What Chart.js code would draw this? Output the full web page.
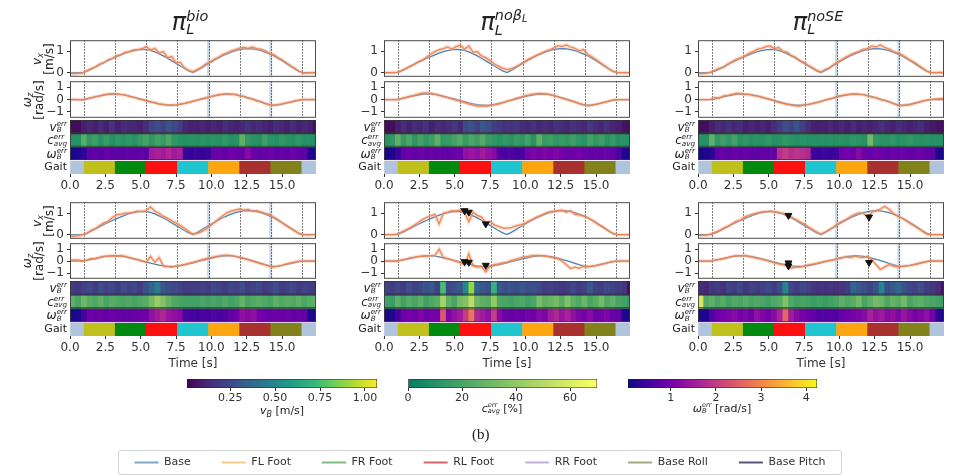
<!DOCTYPE html>
<html>
<head>
<meta charset="utf-8">
<script src="https://cdn.jsdelivr.net/npm/chart.js@4.4.1/dist/chart.umd.min.js"></script>
<style>
body { margin: 0; width: 960px; height: 476px; position: relative; overflow: hidden; background: #fff; font-family: 'DejaVu Sans', sans-serif; color: #222; }
.tx { position: absolute; white-space: nowrap; }
.ttl { font-size: 24px; font-style: italic; transform: translateX(-50%); line-height: 30px; }
.ss { display: inline-block; vertical-align: middle; line-height: 0.9; font-size: 0.6em; text-align: left; font-style: italic; }
.ss > span { display: block; }
.s2 { font-size: 0.7em; vertical-align: -2px; }
.sl { font-size: 12px; height: 16px; line-height: 16px; text-align: right; }
.rot { font-size: 12px; line-height: 12px; text-align: center; transform: translate(-50%, -50%) rotate(-90deg); }
.rot sub { font-size: 8px; line-height: 0; vertical-align: -2px; }
.cbl { font-size: 11px; transform: translateX(-50%); }
.box { position: absolute; left: 118px; top: 450px; width: 722px; height: 23px; border: 1px solid #d4d4d4; border-radius: 3px; }
</style>
</head>
<body>
<div class="box"></div>
<script>
// sample times of the velocity traces [s]
const time = [0,0.3,0.6,0.9,1.2,1.5,1.8,2.1,2.4,2.7,3,3.3,3.6,3.9,4.2,4.5,4.8,5.1,5.4,5.7,6,6.3,6.6,6.9,7.2,7.5,7.8,8.1,8.4,8.7,9,9.3,9.6,9.9,10.2,10.5,10.8,11.1,11.4,11.7,12,12.3,12.6,12.9,13.2,13.5,13.8,14.1,14.4,14.7,15,15.3,15.6,15.9,16.2,16.5,16.8,17.1,17.4];
// start of each error-strip cell [s]
const cellStart = [0,0.4,0.8,1.2,1.6,2,2.4,2.8,3.2,3.6,4,4.4,4.8,5.2,5.6,6,6.4,6.8,7.2,7.6,8,8.4,8.8,9.2,9.6,10,10.4,10.8,11.2,11.6,12,12.4,12.8,13.2,13.6,14,14.4,14.8,15.2,15.6,16,16.4,16.8,17.2];
const cellWidth = 0.4;
const gaitBounds = [0, 1, 3.2, 5.4, 7.6, 9.8, 12, 14.2, 16.4, 17.4];
const gaitColors = ['#b0c4de', '#c0c01c', '#008a10', '#ff1010', '#20c6cf', '#ffa510', '#a8302e', '#82821c', '#b0c4de'];
const xTicks = [0, 2.5, 5, 7.5, 10, 12.5, 15];
const vxTicks = [0, 1];
const wzTicks = [-1, 0, 1];

// commanded base velocity
const baseVx = [0,0,0,0,0.07,0.16,0.27,0.37,0.47,0.57,
  0.66,0.75,0.83,0.91,0.98,1.03,1.07,1.09,1.08,1.04,
  0.97,0.88,0.78,0.67,0.55,0.43,0.31,0.19,0.08,0,
  0.1,0.22,0.34,0.46,0.58,0.69,0.79,0.88,0.96,1.03,
  1.08,1.11,1.12,1.11,1.08,1.03,0.96,0.88,0.79,0.68,
  0.56,0.43,0.3,0.17,0.05,0,0,0,0];
const baseWz = [0,0,0,0,0.06,0.14,0.22,0.3,0.37,0.42,
  0.45,0.45,0.42,0.36,0.28,0.19,0.1,0.01,-0.08,-0.17,
  -0.26,-0.34,-0.4,-0.44,-0.45,-0.43,-0.38,-0.31,-0.23,-0.14,
  -0.05,0.04,0.13,0.22,0.3,0.37,0.42,0.45,0.44,0.4,
  0.33,0.24,0.14,0.04,-0.07,-0.18,-0.3,-0.4,-0.45,-0.42,
  -0.36,-0.28,-0.2,-0.12,-0.04,0,0,0,0];

// measured velocity, top row (1) and bottom row (2)
const vx_bio_1 = [-0.05,-0.05,-0.04,-0.02,0.09,0.18,0.26,0.4,0.46,0.6,
  0.66,0.8,0.84,0.95,0.98,1.06,1.08,1.12,1.22,1.06,
  1.14,0.92,0.98,0.7,0.75,0.45,0.48,0.22,0.1,0.04,
  0.14,0.25,0.4,0.5,0.62,0.72,0.84,0.92,1.02,1.08,
  1.15,1.18,1.14,1.2,1.12,1.1,1.02,0.9,0.84,0.7,
  0.6,0.46,0.32,0.2,0.06,-0.03,-0.02,-0.01,0];
const wz_bio_1 = [0,0.01,0,-0.01,0.08,0.15,0.24,0.3,0.4,0.44,
  0.48,0.46,0.4,0.38,0.26,0.2,0.08,0,-0.1,-0.2,
  -0.24,-0.36,-0.38,-0.44,-0.46,-0.42,-0.36,-0.3,-0.22,-0.12,
  -0.04,0.06,0.15,0.24,0.32,0.4,0.44,0.48,0.42,0.42,
  0.3,0.26,0.12,0.06,-0.1,-0.16,-0.32,-0.42,-0.47,-0.4,
  -0.34,-0.26,-0.2,-0.1,-0.04,0.01,0,0.01,0];
const vx_nobeta_1 = [0,0,0,0.01,0.08,0.17,0.28,0.38,0.5,0.58,
  0.72,0.86,0.98,1.08,1.12,1.2,1.1,1.22,1.28,1.1,
  1.25,0.95,0.98,0.78,0.7,0.56,0.4,0.3,0.2,0.14,
  0.18,0.26,0.38,0.5,0.62,0.72,0.82,0.9,1,1.06,
  1.15,1.26,1.22,1.3,1.2,1.14,1.02,1.08,0.86,0.74,
  0.6,0.46,0.32,0.18,0.06,0,0,0,0];
const wz_nobeta_1 = [0,0,0,0,0.08,0.16,0.26,0.34,0.44,0.52,
  0.55,0.5,0.45,0.34,0.25,0.16,0.06,-0.04,-0.14,-0.25,
  -0.36,-0.44,-0.52,-0.5,-0.55,-0.48,-0.42,-0.36,-0.26,-0.12,
  -0.04,0.08,0.18,0.28,0.36,0.44,0.48,0.5,0.47,0.42,
  0.32,0.22,0.12,0.02,-0.1,-0.2,-0.32,-0.42,-0.5,-0.44,
  -0.4,-0.3,-0.22,-0.12,-0.04,0,0,0,0];
const vx_nose_1 = [-0.04,-0.05,-0.03,0.02,0.12,0.2,0.24,0.4,0.5,0.62,
  0.68,0.78,0.9,0.98,1.1,1.14,1.22,1.25,1.12,1.18,
  1,0.96,0.8,0.72,0.56,0.48,0.34,0.22,0.1,0.02,
  0.14,0.22,0.38,0.5,0.62,0.74,0.84,0.92,1,1.1,
  1.12,1.25,1.2,1.3,1.18,1.1,1,0.92,0.84,0.72,
  0.58,0.48,0.34,0.2,0.06,0,0,0.01,0];
const wz_nose_1 = [0,0,0,0.02,0.16,0.12,0.3,0.34,0.42,0.5,
  0.5,0.4,0.44,0.32,0.3,0.22,0.1,0.02,-0.1,-0.22,
  -0.3,-0.38,-0.44,-0.5,-0.52,-0.44,-0.4,-0.32,-0.24,-0.14,
  -0.02,0.06,0.14,0.28,0.34,0.4,0.44,0.46,0.42,0.4,
  0.3,0.2,0.16,0,-0.06,-0.16,-0.3,-0.44,-0.5,-0.44,
  -0.42,-0.3,-0.24,-0.1,-0.04,0.02,0.06,0.08,0.1];
const vx_bio_2 = [-0.05,-0.08,-0.05,0,0.05,0.2,0.28,0.42,0.55,0.62,
  0.8,0.92,0.96,1,1.02,1.05,1.1,1.08,1.12,1.3,
  1.1,1,0.85,0.76,0.65,0.55,0.42,0.3,0.14,0.02,
  0.06,0.14,0.24,0.4,0.56,0.72,0.88,1.02,1.1,1.15,
  1.2,1.15,1.18,1.1,1.12,1.06,1,0.95,0.82,0.7,
  0.55,0.42,0.3,0.18,0.04,0,-0.02,0,0];
const wz_bio_2 = [0.05,0.1,0.08,0.02,0.1,0.2,0.22,0.32,0.4,0.42,
  0.44,0.4,0.45,0.4,0.3,0.2,0.12,0,-0.1,0.4,
  -0.1,0.3,-0.4,-0.46,-0.5,-0.42,-0.36,-0.28,-0.18,-0.1,
  0,0.1,0.2,0.28,0.36,0.42,0.48,0.5,0.46,0.4,
  0.3,0.2,0.12,0,-0.1,-0.22,-0.32,-0.42,-0.5,-0.42,
  -0.36,-0.24,-0.16,-0.08,0,0,0,0,0];
const vx_nobeta_2 = [0,0,0,0.02,0.1,0.2,0.3,0.42,0.55,0.7,
  0.8,0.88,0.95,0.5,1,1.05,1.12,1.1,1.15,1.02,
  0.6,1.05,0.9,0.82,0.55,0.62,0.45,0.38,0.3,0.3,
  0.32,0.4,0.45,0.5,0.62,0.72,0.82,0.9,1,1.06,
  1.1,1.12,1.15,1.05,1.12,0.95,0.92,0.88,0.8,0.68,
  0.55,0.42,0.3,0.16,0.04,0,0,0,0];
const wz_nobeta_2 = [0.02,0,0.02,0,0.08,0.15,0.25,0.32,0.38,0.42,
  0.4,0.46,0.48,1,0.3,0.2,0.1,0,-0.15,-0.3,
  0.6,-0.4,-0.5,-0.45,-0.9,-0.4,-0.3,-0.24,-0.15,-0.08,
  0.05,0.15,0.25,0.36,0.4,0.46,0.48,0.46,0.42,0.35,
  0.28,0.2,0,-0.3,-0.62,-0.5,-0.6,-0.44,-0.48,-0.42,
  -0.38,-0.3,-0.22,-0.1,-0.02,0,0,0,0];
const vx_nose_2 = [-0.05,-0.04,-0.03,0.02,0.1,0.18,0.3,0.38,0.5,0.62,
  0.68,0.82,0.9,0.96,1.02,1.06,1.08,1.1,1.06,1.02,
  1,0.9,0.82,0.72,0.6,0.5,0.36,0.24,0.12,0.02,
  0.12,0.24,0.36,0.5,0.62,0.72,0.85,0.95,1.02,1,
  0.82,1.05,1.12,1.2,1.32,1.2,1,0.88,0.78,0.66,
  0.52,0.4,0.28,0.14,0.02,0,0,0,0];
const wz_nose_2 = [0,0,0,-0.02,0.1,0.14,0.2,0.3,0.4,0.46,
  0.42,0.48,0.38,0.32,0.24,0.16,0.06,-0.02,-0.14,-0.24,
  -0.3,-0.4,-0.6,-0.48,-0.5,-0.42,-0.32,-0.26,-0.18,-0.1,
  -0.02,0.04,0.1,0.2,0.3,0.36,0.3,0.42,0.34,0.3,
  0.4,0.1,-0.3,-0.7,-0.5,-0.3,-0.4,-0.48,-0.44,-0.4,
  -0.36,-0.3,-0.2,-0.1,-0.02,0.04,0,0,0];

// failure markers
const marks_vx_nobeta_2 = [{x: 5.7, y: 1.12}, {x: 6.0, y: 1.05}, {x: 7.2, y: 0.5}];
const marks_wz_nobeta_2 = [{x: 5.7, y: -0.05}, {x: 6.0, y: -0.1}, {x: 7.2, y: -0.35}];
const marks_vx_nose_2 = [{x: 6.4, y: 0.9}, {x: 12.1, y: 0.82}];
const marks_wz_nose_2 = [{x: 6.4, y: -0.15}, {x: 6.4, y: -0.4}, {x: 12.1, y: -0.12}];

// shaded instants
const bands_bio = [9.8, 14.2];
const bands_nobeta = [];
const bands_nose = [9.8, 14.2];

// error strips: v_B err [m/s], c_avg err [%], w_B err [rad/s]
const vErr_bio_1 = [0.04,0.04,0.1,0.12,0.1,0.14,0.1,0.16,0.1,0.14,0.12,
  0.12,0.1,0.14,0.22,0.26,0.22,0.28,0.24,0.2,0.12,0.1,
  0.1,0.12,0.1,0.12,0.1,0.14,0.12,0.1,0.12,0.16,0.12,
  0.14,0.12,0.1,0.14,0.12,0.1,0.14,0.1,0.12,0.1,0.05];
const cErr_bio_1 = [10,10,24,13,17,11,15,10,13,11,13,
  11,15,19,13,19,15,21,13,11,10,11,
  10,11,10,11,10,13,10,11,26,13,11,
  10,17,11,10,13,11,10,13,10,10,10];
const wErr_bio_1 = [0.15,0.2,0.3,0.75,0.8,0.7,0.85,0.75,0.8,0.7,0.8,
  0.75,0.8,0.7,1.5,1.6,1.5,1.7,1.5,1.6,0.4,0.35,
  0.4,0.35,0.4,0.85,0.9,0.8,1,0.9,0.85,1.2,0.9,
  0.8,0.85,0.9,0.8,0.85,0.8,0.9,0.8,0.75,0.2,0.15];
const vErr_nobeta_1 = [0.04,0.04,0.1,0.14,0.1,0.14,0.12,0.16,0.1,0.14,0.12,
  0.14,0.18,0.12,0.24,0.28,0.22,0.3,0.26,0.2,0.18,0.16,
  0.16,0.18,0.14,0.12,0.16,0.12,0.14,0.12,0.16,0.14,0.12,
  0.16,0.14,0.12,0.18,0.14,0.12,0.16,0.12,0.1,0.06,0.04];
const cErr_nobeta_1 = [11,13,26,15,21,13,19,13,17,26,13,
  15,19,23,15,21,17,23,15,13,11,13,
  11,15,13,19,11,26,15,17,13,15,13,
  17,13,11,19,13,17,11,15,10,11,10];
const wErr_nobeta_1 = [0.15,0.2,0.4,0.8,0.9,0.8,0.9,0.8,0.85,0.8,0.8,
  0.8,0.85,0.9,1.3,1.4,1.3,1.5,1.3,1.2,0.6,0.55,
  0.6,0.5,0.55,1,1.1,1,1.1,1,1.1,1,0.9,
  0.9,1,0.9,0.8,0.85,0.8,0.9,0.8,0.6,0.2,0.15];
const vErr_nose_1 = [0.05,0.05,0.1,0.14,0.12,0.16,0.12,0.14,0.1,0.12,0.1,
  0.12,0.1,0.14,0.2,0.26,0.22,0.28,0.2,0.14,0.1,0.1,
  0.1,0.12,0.1,0.12,0.1,0.14,0.1,0.12,0.1,0.12,0.16,
  0.12,0.1,0.14,0.12,0.1,0.12,0.14,0.1,0.08,0.06,0.05];
const cErr_nose_1 = [10,10,26,13,17,13,19,11,13,10,11,
  11,13,10,11,13,11,10,11,10,10,10,
  10,11,10,11,10,13,11,10,32,13,11,
  11,13,10,11,13,11,10,11,10,10,10];
const wErr_nose_1 = [0.15,0.2,0.3,0.8,0.9,0.8,0.85,0.8,0.9,0.8,0.75,
  0.8,0.8,0.8,1.8,2,1.8,1.9,1.8,1.7,0.45,0.4,
  0.45,0.4,0.45,0.9,1,0.9,1.2,0.9,0.85,1,0.9,
  0.8,0.9,0.85,0.9,0.8,0.85,0.9,0.8,0.75,0.2,0.15];
const vErr_bio_2 = [0.2,0.18,0.22,0.24,0.2,0.26,0.22,0.24,0.2,0.26,0.22,
  0.24,0.2,0.28,0.35,0.45,0.3,0.26,0.24,0.22,0.2,0.2,
  0.2,0.22,0.2,0.24,0.22,0.2,0.24,0.22,0.26,0.2,0.22,
  0.24,0.2,0.22,0.26,0.2,0.22,0.24,0.2,0.22,0.2,0.18];
const cErr_bio_2 = [26,20,31,24,22,26,20,24,22,20,22,
  20,22,24,32,42,36,28,22,20,18,18,
  18,20,18,20,18,22,18,20,28,20,22,
  24,22,20,26,22,24,22,26,20,24,26];
const wErr_bio_2 = [0.15,0.2,0.5,0.9,0.85,0.9,0.8,0.9,0.85,0.8,0.8,
  0.85,0.9,0.9,1.3,1.5,1.7,1.4,1.3,1.2,0.55,0.5,
  0.5,0.55,0.5,0.6,0.55,0.6,0.8,0.9,1.3,1.2,1.3,
  1,0.9,0.85,0.9,0.85,0.9,0.8,0.85,0.8,0.2,0.15];
const vErr_nobeta_2 = [0.22,0.2,0.24,0.2,0.26,0.22,0.24,0.28,0.3,0.22,0.75,
  0.24,0.26,0.3,0.5,0.9,0.35,0.3,0.28,0.7,0.3,0.26,
  0.28,0.26,0.3,0.26,0.28,0.24,0.2,0.22,0.2,0.18,0.2,
  0.24,0.2,0.22,0.3,0.22,0.2,0.24,0.22,0.2,0.18,0.06];
const cErr_nobeta_2 = [18,16,26,18,24,20,26,18,22,24,46,
  26,20,32,36,52,30,26,24,40,22,20,
  18,20,22,18,20,34,26,28,32,24,36,
  26,22,30,20,24,32,22,26,20,18,14];
const wErr_nobeta_2 = [0.15,0.2,0.5,0.9,1,0.9,1.1,0.9,1,1,2.4,
  1.1,1.3,1.5,2,2.8,1.7,1.5,1.3,2,1.2,0.9,
  0.8,0.9,0.8,1,0.9,1.2,1.1,1.5,1.7,1.4,1.6,
  1.3,1.1,1,1.2,0.9,1,1.1,0.9,0.8,0.2,0.15];
const vErr_nose_2 = [0.14,0.12,0.18,0.2,0.16,0.22,0.2,0.24,0.18,0.22,0.2,
  0.22,0.24,0.2,0.26,0.5,0.24,0.2,0.24,0.22,0.18,0.16,
  0.16,0.18,0.16,0.18,0.2,0.35,0.3,0.26,0.22,0.28,0.48,
  0.26,0.3,0.35,0.28,0.24,0.22,0.26,0.2,0.18,0.14,0.06];
const cErr_nose_2 = [58,22,26,20,24,18,22,20,24,20,22,
  20,18,22,24,36,22,18,20,18,16,18,
  16,18,20,26,22,24,32,20,26,32,30,
  22,28,24,32,20,24,26,22,20,18,16];
const wErr_nose_2 = [0.15,0.2,0.6,0.9,1,1.1,1.2,1,1.1,0.9,1.3,
  1.1,1,1.2,1.6,2.6,1.5,1.2,1,0.9,0.8,0.6,
  0.6,0.7,0.6,0.8,0.9,1,1.1,1.2,1.6,1.3,1.5,
  1.2,1.3,1.1,1.4,1.2,1,1.1,1.3,1,0.3,0.15];

// colour bar ranges and ticks
const vRange = [0.01, 1.067], cRange = [0, 70], wRange = [0.05, 4.24];
const vBarTicks = [0.25, 0.5, 0.75, 1.0];
const cBarTicks = [0, 20, 40, 60];
const wBarTicks = [1, 2, 3, 4];

const legendNames = ['Base', 'FL Foot', 'FR Foot', 'RL Foot', 'RR Foot', 'Base Roll', 'Base Pitch'];
const legendColors = ['#7ea6c9', '#f6c98c', '#7dbd7d', '#d9636b', '#c4aed7', '#a3ab7b', '#5d5479'];

const viridis = ['#440154','#482878','#3e4989','#31688e','#26828e','#1f9e89','#35b779','#6ece58','#b5de2b','#fde725'];
const plasma = ['#0d0887','#47039f','#7301a8','#9c179e','#bd3786','#d8576b','#ed7953','#fb9f3a','#fdca26','#f0f921'];
const summer = ['#008066','#ffff66'];

const FONT = "'DejaVu Sans', sans-serif";
Chart.defaults.font.family = FONT;
Chart.defaults.color = '#333';

const colLeft = [70, 384, 698];
const plotW = 246;
const rowGeom = [
  {vx: 38, wz: 79, strip: 120, end: 174},
  {vx: 200, wz: 241, strip: 281, end: 336}
];

const panels = [
  {col: 0, row: 0, vx: vx_bio_1, wz: wz_bio_1, v: vErr_bio_1, c: cErr_bio_1, w: wErr_bio_1, bands: bands_bio, mvx: [], mwz: []},
  {col: 1, row: 0, vx: vx_nobeta_1, wz: wz_nobeta_1, v: vErr_nobeta_1, c: cErr_nobeta_1, w: wErr_nobeta_1, bands: bands_nobeta, mvx: [], mwz: []},
  {col: 2, row: 0, vx: vx_nose_1, wz: wz_nose_1, v: vErr_nose_1, c: cErr_nose_1, w: wErr_nose_1, bands: bands_nose, mvx: [], mwz: []},
  {col: 0, row: 1, vx: vx_bio_2, wz: wz_bio_2, v: vErr_bio_2, c: cErr_bio_2, w: wErr_bio_2, bands: bands_bio, mvx: [], mwz: []},
  {col: 1, row: 1, vx: vx_nobeta_2, wz: wz_nobeta_2, v: vErr_nobeta_2, c: cErr_nobeta_2, w: wErr_nobeta_2, bands: bands_nobeta, mvx: marks_vx_nobeta_2, mwz: marks_wz_nobeta_2},
  {col: 2, row: 1, vx: vx_nose_2, wz: wz_nose_2, v: vErr_nose_2, c: cErr_nose_2, w: wErr_nose_2, bands: bands_nose, mvx: marks_vx_nose_2, mwz: marks_wz_nose_2}
];

function hexToRgb(h) {
  return [1, 3, 5].map(i => parseInt(h.substr(i, 2), 16));
}

function cmap(stops, f) {
  f = Math.max(0, Math.min(1, f));
  const n = stops.length - 1;
  const i = Math.min(n - 1, Math.floor(f * n));
  const r = f * n - i;
  const a = hexToRgb(stops[i]), b = hexToRgb(stops[i + 1]);
  return 'rgb(' + a.map((v, k) => Math.round(v + (b[k] - v) * r)).join(',') + ')';
}

function addCanvas(x, y, w, h) {
  const c = document.createElement('canvas');
  c.width = w;
  c.height = h;
  c.style.cssText = `position:absolute;left:${x}px;top:${y}px;width:${w}px;height:${h}px`;
  document.body.appendChild(c);
  return c;
}

function addText(html, cls, style) {
  const d = document.createElement('div');
  d.className = 'tx ' + cls;
  d.style.cssText = style;
  d.innerHTML = html;
  document.body.appendChild(d);
}

function ss(sup, sub) {
  return `<span class="ss"><span>${sup}</span><span>${sub}</span></span>`;
}

function pts(arr) {
  return time.map((t, i) => ({x: t, y: arr[i]}));
}

// dotted gait lines, blue bands and the frame of a line panel
function panelDeco(bands) {
  return {
    id: 'panelDeco',
    beforeDatasetsDraw(chart) {
      const {ctx, chartArea: a, scales: {x}} = chart;
      ctx.save();
      bands.forEach(t => {
        const p = x.getPixelForValue(t);
        ctx.fillStyle = 'rgba(120,165,205,0.4)';
        ctx.fillRect(p - 1.5, a.top, 3, a.bottom - a.top);
      });
      ctx.strokeStyle = '#222';
      ctx.lineWidth = 0.8;
      ctx.setLineDash([1.5, 1.5]);
      gaitBounds.slice(1, -1).forEach(t => {
        const p = Math.round(x.getPixelForValue(t)) + 0.5;
        ctx.beginPath();
        ctx.moveTo(p, a.top);
        ctx.lineTo(p, a.bottom);
        ctx.stroke();
      });
      ctx.restore();
    },
    afterDraw(chart) {
      const {ctx, chartArea: a} = chart;
      ctx.save();
      ctx.strokeStyle = '#4a4a4a';
      ctx.lineWidth = 1;
      ctx.strokeRect(a.left + 0.5, a.top + 0.5, a.right - a.left - 1, a.bottom - a.top - 1);
      ctx.restore();
    }
  };
}

const stripFrame = {
  id: 'stripFrame',
  afterDatasetsDraw(chart) {
    const {ctx, chartArea: a} = chart;
    const bh = (a.bottom - a.top) / 4;
    ctx.save();
    ctx.strokeStyle = '#fff';
    ctx.lineWidth = 1.2;
    ctx.beginPath();
    ctx.moveTo(a.left, a.top + 3 * bh);
    ctx.lineTo(a.right, a.top + 3 * bh);
    ctx.stroke();
    ctx.strokeStyle = '#333';
    ctx.lineWidth = 0.8;
    for (let i = 0; i < 3; i++) {
      ctx.strokeRect(a.left + 0.4, a.top + i * bh + 0.4, a.right - a.left - 0.8, bh - 1.2);
    }
    ctx.restore();
  }
};

function lineChart(left, top, h, yMin, yMax, ticks, measured, marks, bands) {
  const cv = addCanvas(left - 44, top - 8, plotW + 50, h + 16);
  new Chart(cv, {
    type: 'line',
    data: {
      datasets: [
        {data: marks, showLine: false, pointStyle: 'triangle', rotation: 180, pointRadius: 4,
          backgroundColor: '#111', borderColor: '#111'},
        {data: pts(measured), borderColor: 'rgba(236,132,84,0.95)', borderWidth: 1.3},
        {data: pts(measured), borderColor: 'rgba(245,172,135,0.45)', borderWidth: 3.5},
        {data: pts(ticks === vxTicks ? baseVx : baseWz), borderColor: '#4d7fae', borderWidth: 1.3}
      ]
    },
    options: {
      responsive: false, animation: false, events: [],
      layout: {padding: {left: 0, right: 6, top: 8, bottom: 8}},
      elements: {point: {radius: 0}, line: {tension: 0}},
      plugins: {legend: {display: false}, tooltip: {enabled: false}},
      scales: {
        x: {type: 'linear', min: 0, max: 17.4, display: false},
        y: {
          min: yMin, max: yMax,
          afterFit: s => { s.width = 44; },
          afterBuildTicks: s => { s.ticks = ticks.map(v => ({value: v})); },
          ticks: {font: {size: 12}, color: '#333', padding: 3,
            callback: v => v < 0 ? '\u2212' + (-v) : String(v)},
          grid: {drawOnChartArea: false, tickLength: 3, color: '#333'},
          border: {display: false}
        }
      }
    },
    plugins: [panelDeco(bands)]
  });
}

function stripChart(left, top, h, p, bottomRow) {
  const axisH = bottomRow ? 38 : 22;
  const cv = addCanvas(left - 44, top - 8, plotW + 50, 8 + h + axisH);
  const rows = [
    {label: 'v', vals: p.v, stops: viridis, range: vRange},
    {label: 'c', vals: p.c, stops: summer, range: cRange},
    {label: 'w', vals: p.w, stops: plasma, range: wRange}
  ];
  const datasets = rows.map(r => {
    const cols = r.vals.map(v => cmap(r.stops, (v - r.range[0]) / (r.range[1] - r.range[0])));
    return {
      data: cellStart.map(t => ({x: [t, t + cellWidth], y: r.label})),
      backgroundColor: cols, borderWidth: 0
    };
  });
  datasets.push({
    data: gaitColors.map((c, i) => ({x: [gaitBounds[i], gaitBounds[i + 1]], y: 'Gait'})),
    backgroundColor: gaitColors, borderWidth: 0
  });
  datasets.forEach(d => { d.barPercentage = 1; d.categoryPercentage = 1; d.grouped = false; });
  new Chart(cv, {
    type: 'bar',
    data: {datasets},
    options: {
      indexAxis: 'y',
      responsive: false, animation: false, events: [],
      layout: {padding: {left: 44, right: 6, top: 8, bottom: 0}},
      plugins: {legend: {display: false}, tooltip: {enabled: false}},
      scales: {
        x: {
          type: 'linear', min: 0, max: 17.4,
          afterFit: s => { s.height = axisH; },
          afterBuildTicks: s => { s.ticks = xTicks.map(v => ({value: v})); },
          ticks: {font: {size: 12}, color: '#333', padding: 2, maxRotation: 0,
            callback: v => v.toFixed(1)},
          grid: {drawOnChartArea: false, tickLength: 3, color: '#333'},
          border: {display: false},
          title: {display: bottomRow, text: 'Time [s]', font: {size: 12}, color: '#333', padding: {top: 0, bottom: 3}}
        },
        y: {type: 'category', labels: ['v', 'c', 'w', 'Gait'], offset: true, display: false}
      }
    },
    plugins: [stripFrame]
  });
}

function colorbar(left, width, range, ticks, stops, fmt) {
  const cv = addCanvas(left - 16, 377, width + 32, 27);
  new Chart(cv, {
    type: 'bar',
    data: {
      labels: ['cb'],
      datasets: [{
        data: [range],
        backgroundColor: ctx => {
          const a = ctx.chart.chartArea;
          if (!a) return stops[0];
          const g = ctx.chart.ctx.createLinearGradient(a.left, 0, a.right, 0);
          stops.forEach((s, i) => g.addColorStop(i / (stops.length - 1), s));
          return g;
        },
        borderColor: '#222', borderWidth: 0.8, borderSkipped: false,
        barPercentage: 1, categoryPercentage: 1
      }]
    },
    options: {
      indexAxis: 'y',
      responsive: false, animation: false, events: [],
      layout: {padding: {left: 16, right: 16, top: 2, bottom: 0}},
      plugins: {legend: {display: false}, tooltip: {enabled: false}},
      scales: {
        x: {
          type: 'linear', min: range[0], max: range[1],
          afterFit: s => { s.height = 16; },
          afterBuildTicks: s => { s.ticks = ticks.map(v => ({value: v})); },
          ticks: {font: {size: 11}, color: '#333', padding: 1, maxRotation: 0, callback: fmt},
          grid: {drawOnChartArea: false, tickLength: 3, color: '#333'},
          border: {display: false}
        },
        y: {display: false, offset: true}
      }
    }
  });
}

// panels
panels.forEach(p => {
  const L = colLeft[p.col];
  const g = rowGeom[p.row];
  lineChart(L, g.vx, g.wz - g.vx, -0.2, 1.52, vxTicks, p.vx, p.mvx, p.bands);
  lineChart(L, g.wz, g.strip - g.wz, -1.48, 1.5, wzTicks, p.wz, p.mwz, p.bands);
  stripChart(L, g.strip, g.end - g.strip, p, p.row === 1);

  const labels = ['<i>v</i>' + ss('err', 'B'), '<i>c</i>' + ss('err', 'avg'), '<i>ω</i>' + ss('err', 'B'), 'Gait'];
  const hh = (g.end - g.strip) / 4;
  labels.forEach((lab, i) => {
    const cy = g.strip + hh / 2 + i * hh;
    addText(lab, 'sl', `right:${960 - (L - 3)}px;top:${cy - 8}px;` + (i === 3 ? 'font-size:11px;' : ''));
  });
  if (p.col === 0) {
    addText('<div><i>v</i><sub><i>x</i></sub></div><div>[m/s]</div>', 'rot', `left:43px;top:${(g.vx + g.wz) / 2}px`);
    addText('<div><i>ω</i><sub><i>z</i></sub></div><div>[rad/s]</div>', 'rot', `left:33px;top:${(g.wz + g.strip) / 2}px`);
  }
});

// column titles
const titles = ['π' + ss('bio', 'L'), 'π' + ss('noβ<span class="s2">L</span>', 'L'), 'π' + ss('noSE', 'L')];
titles.forEach((t, i) => addText(t, 'ttl', `left:${colLeft[i] + plotW / 2 - 3}px;top:7px`));

// colour bars
colorbar(187, 190, vRange, vBarTicks, viridis, v => v.toFixed(2));
colorbar(408, 189, cRange, cBarTicks, summer, v => String(v));
colorbar(628, 189, wRange, wBarTicks, plasma, v => String(v));
addText('<i>v<sub style="font-size:8px">B</sub></i> [m/s]', 'cbl', 'left:282px;top:404px');
addText('<i>c</i>' + ss('err', 'avg') + ' [%]', 'cbl', 'left:502px;top:402px');
addText('<i>ω</i>' + ss('err', 'B') + ' [rad/s]', 'cbl', 'left:722px;top:402px');
addText('(b)', '', "left:472px;top:426px;font-family:'Liberation Serif',serif;font-size:15px");

// legend
const legPad = 31;
const legCanvas = addCanvas(80, 462 - legPad - 5.5, 800, 130);
new Chart(legCanvas, {
  type: 'line',
  data: {
    datasets: legendNames.map((n, i) => ({label: n, data: [], backgroundColor: legendColors[i], borderColor: legendColors[i], borderWidth: 0}))
  },
  options: {
    responsive: false, animation: false, events: [],
    layout: {padding: 0},
    plugins: {
      tooltip: {enabled: false},
      legend: {
        position: 'top',
        labels: {boxWidth: 24, boxHeight: 2, padding: legPad, font: {size: 11}, color: '#333'}
      }
    },
    scales: {x: {display: false}, y: {display: false}}
  }
});
</script>
</body>
</html>
